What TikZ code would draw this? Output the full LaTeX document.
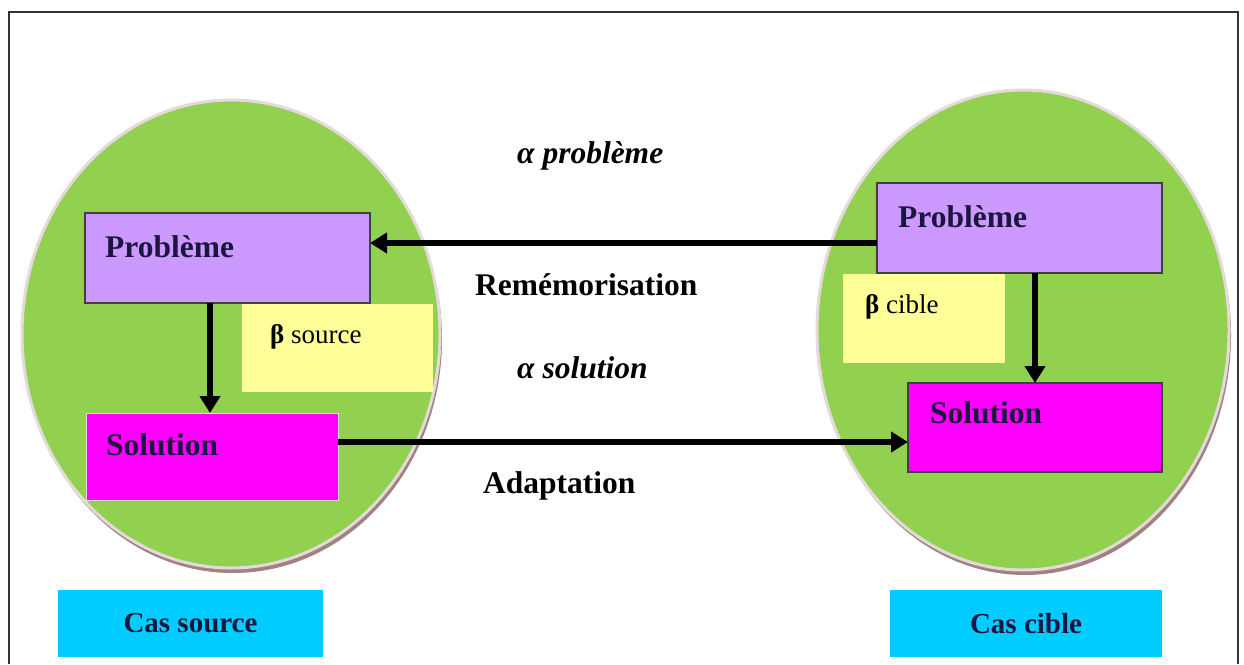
\documentclass[tikz,border=0pt]{standalone}
\usepackage{fontspec}
\setmainfont{Liberation Serif}
\usetikzlibrary{arrows.meta}
\definecolor{casegreen}{HTML}{92D050}
\definecolor{problemfill}{HTML}{CC99FF}
\definecolor{solfill}{HTML}{FF00FF}
\definecolor{betafill}{HTML}{FFFF99}
\definecolor{casefill}{HTML}{00CCFF}
\definecolor{boxtext}{HTML}{1A1640}
\definecolor{rimcol}{HTML}{E4DADA}
\definecolor{shadowcol}{HTML}{A08282}
\tikzset{
  box/.style={rectangle, inner sep=0pt, outer sep=0pt, anchor=north west},
  probbox/.style={box, fill=problemfill, draw=black!75, line width=1.5pt},
  solbox/.style={box, fill=solfill},
  betabox/.style={box, fill=betafill},
  casebox/.style={box, fill=casefill},
  boxlabel/.style={anchor=base west, inner sep=0pt, text=boxtext, font=\fontsize{31.5}{36}\selectfont\bfseries},
  betalabel/.style={anchor=base west, inner sep=0pt, text=black, font=\fontsize{27}{32}\selectfont},
  caselabel/.style={inner sep=0pt, text=boxtext, font=\fontsize{29}{34}\selectfont\bfseries},
  midlabel/.style={anchor=base west, inner sep=0pt, text=black, font=\fontsize{31.5}{36}\selectfont\bfseries},
  arr/.style={line width=6pt, -{Triangle[length=17pt,width=20pt]}},
  bubble/.style={fill=casegreen, draw=rimcol, line width=3pt}
}
\begin{document}
\begin{tikzpicture}[x=1pt,y=-1pt]
\useasboundingbox (0,0) rectangle (1244,664);
\fill[white] (0,0) rectangle (1244,664);
% outer frame, open at the bottom
\draw[black!80, line width=2pt] (9,664) -- (9,12) -- (1238,12) -- (1238,664);

% the two case bubbles, with a soft shadow underneath
\fill[shadowcol] (233,339) ellipse [x radius=209pt, y radius=234pt];
\draw[bubble] (231,334) ellipse [x radius=209pt, y radius=234pt];
\fill[shadowcol] (1025,335) ellipse [x radius=206pt, y radius=240pt];
\draw[bubble] (1023,330) ellipse [x radius=206pt, y radius=240pt];

% source case
\node[probbox, minimum width=285pt, minimum height=90pt] (lp) at (85,213) {};
\node[betabox, minimum width=191pt, minimum height=88pt] (lb) at (242,304) {};
\node[solbox, draw=rimcol, line width=1pt, minimum width=252pt, minimum height=87pt] (ls) at (86,413) {};
\node[casebox, minimum width=265pt, minimum height=67pt] (lc) at (58,590) {};

% target case
\node[probbox, minimum width=285pt, minimum height=90pt] (rp) at (877,183) {};
\node[betabox, minimum width=162pt, minimum height=89pt] (rb) at (843,274) {};
\node[solbox, draw=black!75, line width=1.5pt, minimum width=254pt, minimum height=89pt] (rs) at (908,383) {};
\node[casebox, minimum width=272pt, minimum height=67pt] (rc) at (890,590) {};

% box texts
\node[boxlabel] (lpt) at (105,257) {Problème};
\node[betalabel] (lbt) at (270,343) {\textbf{β} source};
\node[boxlabel] (lst) at (106,455) {Solution};
\node[caselabel] (lct) at (lc.center) {Cas source};
\node[boxlabel] (rpt) at (898,227) {Problème};
\node[betalabel] (rbt) at (865,313) {\textbf{β} cible};
\node[boxlabel] (rst) at (930,423) {Solution};
\node[caselabel] (rct) at (rc.center) {Cas cible};

% labels between the cases
\node[midlabel] (ap) at (517,163) {\itshape α problème};
\node[midlabel] (rem) at (475,295) {Remémorisation};
\node[midlabel] (as) at (517,378) {\itshape α solution};
\node[midlabel] (ad) at (483,493) {Adaptation};

% connectors
\draw[arr] ([yshift=-15pt]rp.west) -- ([yshift=-15pt]rp.west -| lp.east);
\draw[arr] ([yshift=14.5pt]ls.east) -- ([yshift=14.5pt]ls.east -| rs.west);
\draw[arr] ([xshift=-2pt]ls.north |- lp.south) -- ([xshift=-2pt]ls.north);
\draw[arr] (rs.north |- rp.south) -- (rs.north);
\end{tikzpicture}
\end{document}
